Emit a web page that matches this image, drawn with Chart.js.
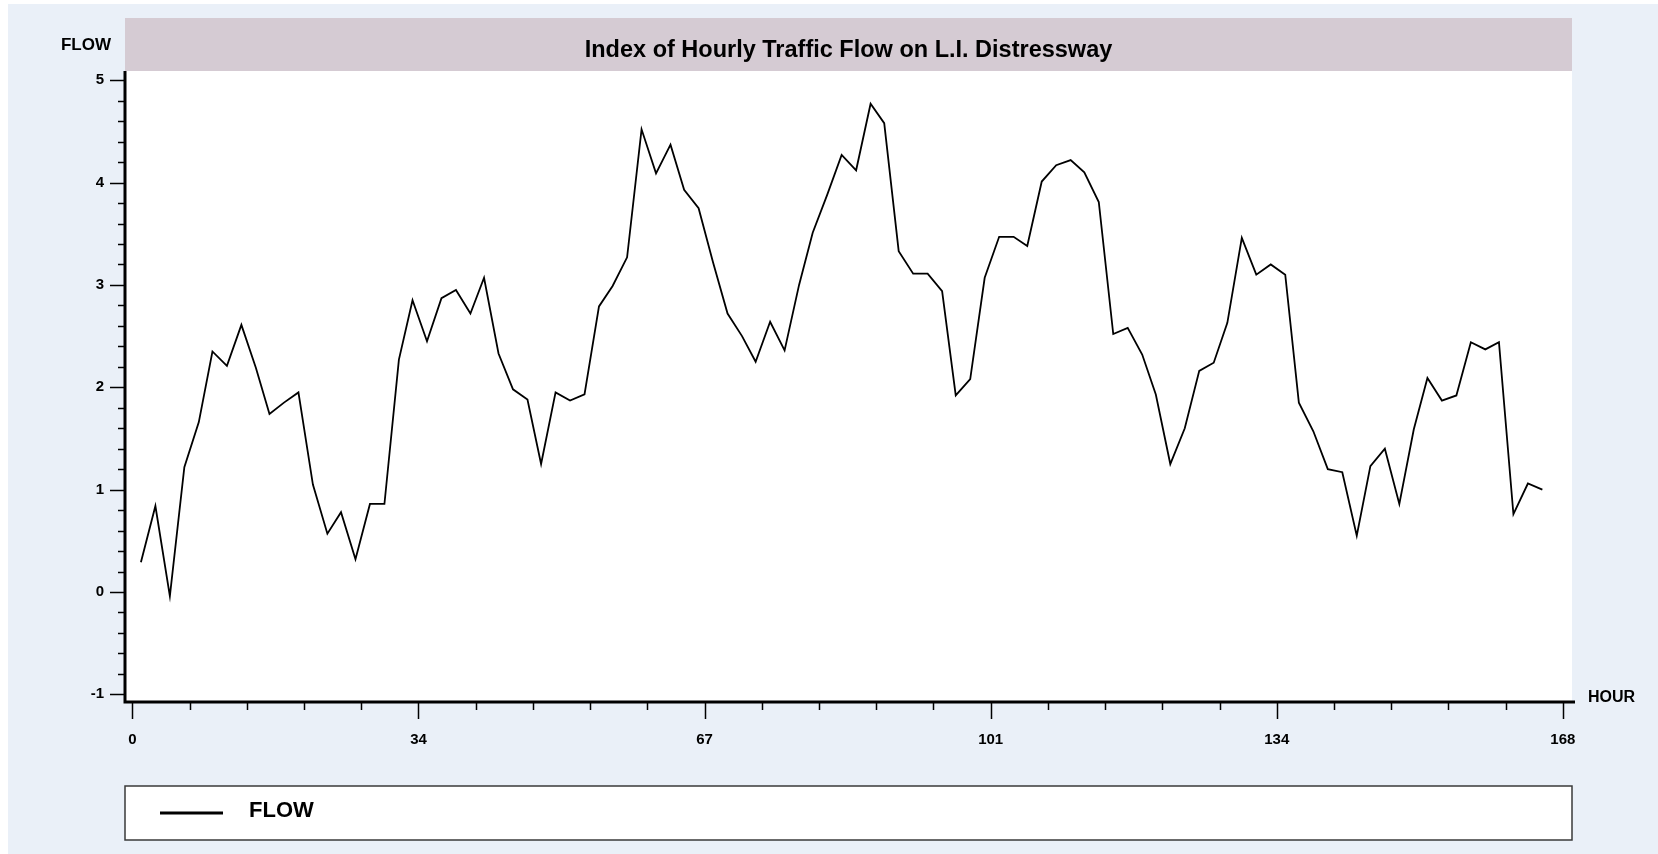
<!DOCTYPE html>
<html>
<head>
<meta charset="utf-8">
<title>Index of Hourly Traffic Flow on L.I. Distressway</title>
<script src="https://cdn.jsdelivr.net/npm/chart.js@4.4.1/dist/chart.umd.min.js"></script>
<style>
  html, body { margin: 0; padding: 0; background: #ffffff; }
  canvas { display: block; }
</style>
</head>
<body>
<canvas id="chart" width="1658" height="854"></canvas>
<script>
// Hour of each observation
const hours = [
  1.0, 2.7, 4.4, 6.1, 7.8, 9.4, 11.1, 12.8, 14.5, 16.1,
  17.8, 19.5, 21.2, 22.9, 24.5, 26.2, 27.9, 29.6, 31.3, 32.9,
  34.6, 36.3, 38.0, 39.7, 41.3, 43.0, 44.7, 46.4, 48.0, 49.7,
  51.4, 53.1, 54.8, 56.4, 58.1, 59.8, 61.5, 63.2, 64.8, 66.5,
  68.2, 69.9, 71.6, 73.2, 74.9, 76.6, 78.3, 79.9, 81.6, 83.3,
  85.0, 86.7, 88.3, 90.0, 91.7, 93.4, 95.1, 96.7, 98.4, 100.1,
  101.8, 103.5, 105.1, 106.8, 108.5, 110.2, 111.8, 113.5, 115.2, 116.9,
  118.6, 120.2, 121.9, 123.6, 125.3, 127.0, 128.6, 130.3, 132.0, 133.7,
  135.4, 137.0, 138.7, 140.4, 142.1, 143.8, 145.4, 147.1, 148.8, 150.5,
  152.1, 153.8, 155.5, 157.2, 158.9, 160.5, 162.2, 163.9, 165.6
];

// Traffic flow index
const flow = [
  0.29, 0.84, -0.04, 1.22, 1.66, 2.35, 2.21, 2.61, 2.19, 1.74,
  1.85, 1.95, 1.05, 0.57, 0.78, 0.32, 0.86, 0.86, 2.27, 2.85,
  2.45, 2.87, 2.95, 2.72, 3.07, 2.33, 1.98, 1.88, 1.25, 1.95,
  1.87, 1.93, 2.79, 2.99, 3.27, 4.52, 4.09, 4.37, 3.93, 3.75,
  3.22, 2.72, 2.50, 2.25, 2.64, 2.36, 3.00, 3.51, 3.88, 4.27,
  4.12, 4.77, 4.58, 3.33, 3.11, 3.11, 2.94, 1.92, 2.08, 3.07,
  3.47, 3.47, 3.38, 4.01, 4.17, 4.22, 4.10, 3.81, 2.52, 2.58,
  2.32, 1.93, 1.25, 1.60, 2.16, 2.24, 2.63, 3.46, 3.10, 3.20,
  3.10, 1.85, 1.57, 1.20, 1.17, 0.55, 1.23, 1.40, 0.86, 1.59,
  2.09, 1.87, 1.92, 2.44, 2.37, 2.44, 0.76, 1.06, 1.00
];

// Axis ticks
const xTickValues = [0, 33.6, 67.2, 100.8, 134.4, 168];
const xTickLabels = ['0', '34', '67', '101', '134', '168'];
const xMinorStep = 6.72;
const yTickValues = [-1, 0, 1, 2, 3, 4, 5];
const yTickLabels = ['-1', '0', '1', '2', '3', '4', '5'];
const yMinorStep = 0.2;

const TITLE = 'Index of Hourly Traffic Flow on L.I. Distressway';
const SERIES = 'FLOW';
const Y_NAME = 'FLOW';
const X_NAME = 'HOUR';

const FONT = '"Liberation Sans", Arial, Helvetica, sans-serif';
const PAGE_BG = '#eaf0f8';
const BANNER_BG = '#d5cbd3';

// Backgrounds, axis lines, tick marks, axis names and legend box
const decorations = {
  id: 'decorations',
  beforeDraw(chart) {
    const c = chart.ctx, a = chart.chartArea;
    const W = chart.width, H = chart.height;
    c.save();
    c.fillStyle = '#ffffff';
    c.fillRect(0, 0, W, H);
    c.fillStyle = PAGE_BG;
    c.fillRect(8, 4, W - 8, H - 4);
    c.fillStyle = BANNER_BG;
    c.fillRect(a.left, 18, a.right - a.left, a.top - 18);
    c.fillStyle = '#ffffff';
    c.fillRect(a.left, a.top, a.right - a.left, a.bottom - a.top);
    // legend frame
    c.fillStyle = '#ffffff';
    c.fillRect(a.left, 786, a.right - a.left, 54);
    c.strokeStyle = '#3a3a3a';
    c.lineWidth = 1.5;
    c.strokeRect(a.left, 786, a.right - a.left, 54);
    c.restore();
  },
  afterDraw(chart) {
    const c = chart.ctx, a = chart.chartArea;
    const xs = chart.scales.x, ys = chart.scales.y;
    const axisY = a.bottom + 1;
    const axisX = a.left;
    c.save();
    c.strokeStyle = '#000';
    c.fillStyle = '#000';

    // axis lines
    c.lineWidth = 3;
    c.beginPath();
    c.moveTo(axisX, a.top);
    c.lineTo(axisX, axisY + 1.5);
    c.moveTo(axisX - 1.5, axisY);
    c.lineTo(a.right + 3, axisY);
    c.stroke();

    // y ticks
    c.lineWidth = 1.5;
    c.beginPath();
    const yMin = yTickValues[0], yMax = yTickValues[yTickValues.length - 1];
    for (let i = 0; i <= Math.round((yMax - yMin) / yMinorStep); i++) {
      const v = yMin + i * yMinorStep;
      const py = Math.round(ys.getPixelForValue(v)) + 0.5;
      const major = Math.abs(v - Math.round(v)) < 1e-6;
      c.moveTo(axisX - (major ? 15 : 7), py);
      c.lineTo(axisX, py);
    }
    // x ticks
    const xMax = xTickValues[xTickValues.length - 1];
    for (let i = 0; i <= Math.round(xMax / xMinorStep); i++) {
      const v = i * xMinorStep;
      const px = Math.round(xs.getPixelForValue(v)) + 0.5;
      const major = i % 5 === 0;
      c.moveTo(px, axisY);
      c.lineTo(px, axisY + (major ? 17 : 8));
    }
    c.stroke();

    // axis names
    c.font = 'bold 17px ' + FONT;
    c.textBaseline = 'middle';
    c.textAlign = 'center';
    c.fillText(Y_NAME, 86, 45);
    c.font = 'bold 16px ' + FONT;
    c.textAlign = 'left';
    c.fillText(X_NAME, 1588, 698);

    // legend entry
    c.lineWidth = 3;
    c.beginPath();
    c.moveTo(160, 813);
    c.lineTo(223, 813);
    c.stroke();
    c.font = 'bold 22px ' + FONT;
    c.textAlign = 'left';
    c.fillText(SERIES, 249, 811);
    c.restore();
  }
};

new Chart(document.getElementById('chart'), {
  type: 'line',
  data: {
    datasets: [{
      label: SERIES,
      data: hours.map((h, i) => ({ x: h, y: flow[i] })),
      borderColor: '#000000',
      borderWidth: 1.8,
      pointRadius: 0,
      tension: 0,
      fill: false
    }]
  },
  options: {
    responsive: false,
    devicePixelRatio: 1,
    animation: false,
    layout: { padding: { top: 0, left: 0, right: 86, bottom: 93 } },
    plugins: {
      legend: { display: false },
      tooltip: { enabled: false },
      title: {
        display: true,
        text: TITLE,
        fullSize: false,
        color: '#000',
        font: { family: FONT, size: 23.5, weight: 'bold' },
        padding: { top: 36, bottom: 6.8 }
      }
    },
    scales: {
      x: {
        type: 'linear',
        min: -0.87,
        max: 169.08,
        grid: { display: false },
        border: { display: false },
        afterBuildTicks(s) { s.ticks = xTickValues.map(v => ({ value: v })); },
        afterFit(s) { s.height = 60; },
        ticks: {
          autoSkip: false,
          maxRotation: 0,
          padding: 22,
          color: '#000',
          font: { family: FONT, size: 15, weight: 'bold' },
          callback: (v, i) => xTickLabels[i]
        }
      },
      y: {
        type: 'linear',
        min: -1.065,
        max: 5.09,
        grid: { display: false },
        border: { display: false },
        afterBuildTicks(s) { s.ticks = yTickValues.map(v => ({ value: v })); },
        afterFit(s) { s.width = 125; },
        ticks: {
          padding: 13,
          color: '#000',
          font: { family: FONT, size: 15, weight: 'bold' },
          callback: (v, i) => yTickLabels[i]
        }
      }
    }
  },
  plugins: [decorations]
});
</script>
</body>
</html>
